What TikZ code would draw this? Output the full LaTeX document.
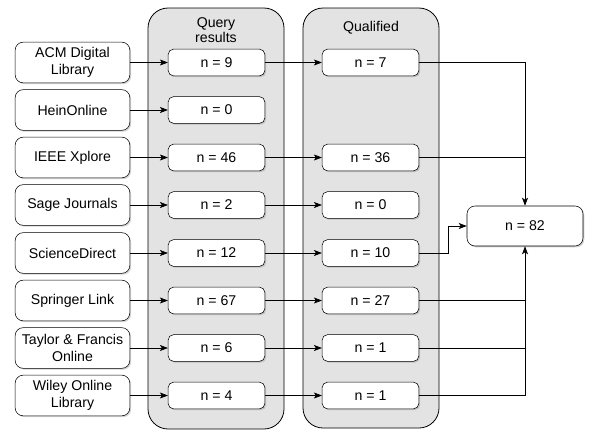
\documentclass[tikz,border=0pt]{standalone}
\usepackage{fontspec}
\setmainfont{Liberation Sans}
\usetikzlibrary{arrows.meta,shadows}
\tikzset{
  src/.style={draw=black, fill=white, rounded corners=6pt, minimum width=86pt, minimum height=30.5pt, align=center, font=\fontsize{10.6}{12.4}\selectfont, inner sep=1pt, drop shadow={shadow xshift=1pt, shadow yshift=-1pt, opacity=0.35, fill=gray}},
  cnt/.style={draw=black, fill=white, rounded corners=4pt, minimum width=72.5pt, minimum height=20pt, font=\fontsize{10.6}{12.4}\selectfont, inner sep=1pt, drop shadow={shadow xshift=1pt, shadow yshift=-1pt, opacity=0.35, fill=gray}},
  lane/.style={draw=black, fill=black!11, rounded corners=15pt, line width=0.6pt},
  lanelabel/.style={align=center, font=\fontsize{10.6}{8}\selectfont},
  arr/.style={draw=black, line width=0.5pt, -{Stealth[length=6pt, width=4.5pt, inset=1.5pt]}},
  ln/.style={draw=black, line width=0.5pt}
}
\begin{document}
\begin{tikzpicture}[x=0.75pt, y=-0.75pt]
\useasboundingbox (0,0) rectangle (599,436);
% lanes
\draw[lane] (148,8) rectangle (284,429);
\draw[lane] (303,8) rectangle (439,428);
\node[lanelabel] (lq) at (216,30) {Query\\results};
\node[lanelabel] (lf) at (371,28) {Qualified};
% sources
\node[src] (s1) at (72.5,62.5) {ACM Digital\\Library};
\node[src] (s2) at (72.5,110) {HeinOnline};
\node[src] (s3) at (72.5,157.5) {IEEE Xplore};
\node[src] (s4) at (72.5,205) {Sage Journals};
\node[src] (s5) at (72.5,253) {ScienceDirect};
\node[src] (s6) at (72.5,300.5) {Springer Link};
\node[src] (s7) at (72.5,348) {Taylor \& Francis\\Online};
\node[src] (s8) at (72.5,395.5) {Wiley Online\\Library};
% query results
\node[cnt] (q1) at (216.5,62.5) {n = 9};
\node[cnt] (q2) at (216.5,110) {n = 0};
\node[cnt] (q3) at (216.5,157.5) {n = 46};
\node[cnt] (q4) at (216.5,205) {n = 2};
\node[cnt] (q5) at (216.5,253) {n = 12};
\node[cnt] (q6) at (216.5,300.5) {n = 67};
\node[cnt] (q7) at (216.5,348) {n = 6};
\node[cnt] (q8) at (216.5,395.5) {n = 4};
% qualified
\node[cnt] (f1) at (370.5,62.5) {n = 7};
\node[cnt] (f3) at (370.5,157.5) {n = 36};
\node[cnt] (f4) at (370.5,205) {n = 0};
\node[cnt] (f5) at (370.5,253) {n = 10};
\node[cnt] (f6) at (370.5,300.5) {n = 27};
\node[cnt] (f7) at (370.5,348) {n = 1};
\node[cnt] (f8) at (370.5,395.5) {n = 1};
% total
\node[cnt, minimum width=87pt, minimum height=30pt, rounded corners=6pt] (t) at (525,226) {n = 82};
% arrows sources -> query
\foreach \i in {1,...,8} \draw[arr] (s\i) -- (q\i);
% query -> qualified
\foreach \i in {1,3,4,5,6,7,8} \draw[arr] (q\i) -- (f\i);
% qualified -> total
\coordinate (jt) at (525,157.5);
\coordinate (jb) at (525,300.5);
\draw[arr] (f1.east) -| (t.north);
\draw[ln] (f3.east) -- (jt);
\draw[arr] (f5.east) -- (448,253) |- (t.west);
\draw[arr] (f8.east) -| (t.south);
\draw[ln] (f6.east) -- (jb);
\draw[ln] (f7.east) -- (525,348);
\end{tikzpicture}
\end{document}
